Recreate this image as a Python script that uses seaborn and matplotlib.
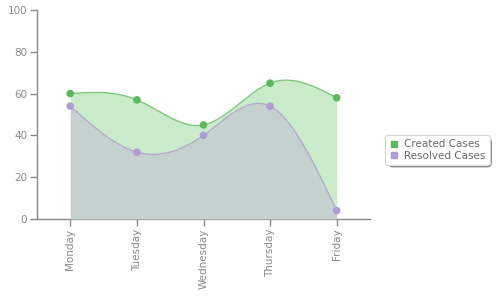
import numpy as np
import pandas as pd
import matplotlib
matplotlib.use("Agg")
import matplotlib.pyplot as plt
import seaborn as sns
from matplotlib.patches import FancyBboxPatch
from matplotlib.lines import Line2D

days = ["Monday", "Tuesday", "Wednesday", "Thursday", "Friday"]
created = [60, 57, 45, 65, 58]
resolved = [54, 32, 40, 54, 4]
y_ticks = [0, 20, 40, 60, 80, 100]

sns.set_theme(style="white")
plt.rcParams['font.family'] = ['DejaVu Sans']


def natural_spline(y, n=60):
    y = np.asarray(y, float)
    k = len(y)
    x = np.arange(k, dtype=float)
    A = np.zeros((k, k))
    b = np.zeros(k)
    A[0, 0] = 1
    A[-1, -1] = 1
    for i in range(1, k - 1):
        A[i, i - 1] = 1
        A[i, i] = 4
        A[i, i + 1] = 1
        b[i] = 6 * (y[i + 1] - 2 * y[i] + y[i - 1])
    M = np.linalg.solve(A, b)
    xs, ys = [], []
    for i in range(k - 1):
        t = np.linspace(0, 1, n, endpoint=(i == k - 2))
        a = 1 - t
        s = a * y[i] + t * y[i + 1] + ((a ** 3 - a) * M[i] + (t ** 3 - t) * M[i + 1]) / 6
        xs.append(x[i] + t)
        ys.append(s)
    return np.concatenate(xs), np.concatenate(ys)


fig = plt.figure(figsize=(5, 3), dpi=100)
ax = fig.add_axes([37 / 500, 81 / 300, 333 / 500, 209 / 300])

green_fill = "#c9ebc9"
green_line = "#7cc97c"
green_mark = "#5cb85c"
gray_fill = "#c5d1cf"
purple_line = "#b8a8d0"
purple_mark = "#b09cd4"

xc, yc = natural_spline(created)
xr, yr = natural_spline(resolved)

ax.fill_between(xc, 0, yc, color=green_fill, lw=0, zorder=1)
ax.plot(xc, yc, color=green_line, lw=1, zorder=2)
ax.fill_between(xr, 0, yr, color=gray_fill, lw=0, zorder=3)
ax.plot(xr, yr, color=purple_line, lw=1, zorder=4)

df = pd.DataFrame({"x": np.arange(len(days)), "Created Cases": created, "Resolved Cases": resolved})
sns.scatterplot(data=df, x="x", y="Created Cases", ax=ax, color=green_mark, s=30,
                edgecolor="none", zorder=5, legend=False)
sns.scatterplot(data=df, x="x", y="Resolved Cases", ax=ax, color=purple_mark, s=30,
                edgecolor="none", zorder=6, legend=False)

ax.set_xlim(-0.5, len(days) - 0.5)
ax.set_ylim(0, 100)
ax.set_xticks(range(len(days)))
ax.set_xticklabels(days, rotation=90, va="top", ha="center")
ax.set_yticks(y_ticks)
ax.set_yticklabels([str(v) for v in y_ticks])
ax.set_xlabel("")
ax.set_ylabel("")

for side in ["top", "right"]:
    ax.spines[side].set_visible(False)
for side in ["left", "bottom"]:
    ax.spines[side].set_color("#8a8a8a")
    ax.spines[side].set_linewidth(1)
ax.tick_params(axis="both", which="both", direction="out", length=5, width=1,
               color="#8a8a8a", labelcolor="#8a8a8a", labelsize=7.5, pad=2,
               left=True, bottom=True)

# legend
handles = [Line2D([], [], marker="s", ls="none", color=green_mark, markersize=4),
           Line2D([], [], marker="s", ls="none", color=purple_mark, markersize=4)]
leg = fig.legend(handles, ["Created Cases", "Resolved Cases"],
                 loc="center left", bbox_to_anchor=(380 / 500, 1 - 150 / 300),
                 frameon=True, fontsize=7.5, handlelength=0.8, handletextpad=0.6,
                 labelspacing=0.15, borderpad=0.4, fancybox=True, shadow=False,
                 framealpha=1.0)
frame = leg.get_frame()
frame.set_facecolor("white")
frame.set_edgecolor("#d8d8d8")
frame.set_linewidth(0.8)
for t in leg.get_texts():
    t.set_color("#6a6a6a")

fig.canvas.draw()
bb = leg.get_window_extent()
shadow = FancyBboxPatch((bb.x0 + 2.5, bb.y0 - 2.5), bb.width, bb.height,
                        boxstyle="round,pad=0,rounding_size=5",
                        transform=None, facecolor="#8c8c8c", edgecolor="none",
                        zorder=leg.get_zorder() - 1)
fig.patches.append(shadow)

fig.savefig("out.png", dpi=100)
